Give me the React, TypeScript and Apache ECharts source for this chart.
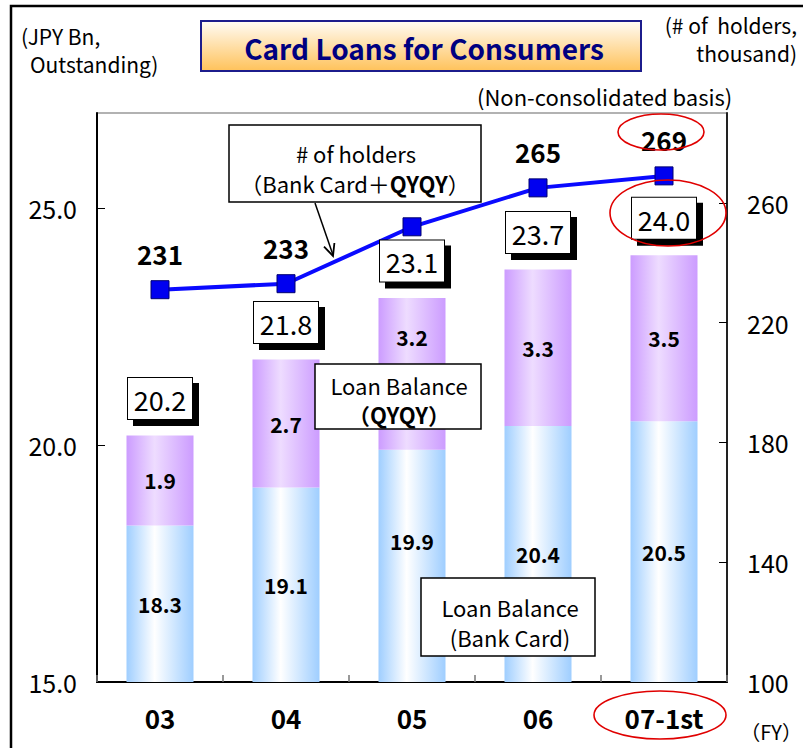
import React, { useEffect, useRef } from "react";
import * as echarts from "echarts";

const categories = ["03", "04", "05", "06", "07-1st"];
const bankCard = [18.3, 19.1, 19.9, 20.4, 20.5];
const qyqy = [1.9, 2.7, 3.2, 3.3, 3.5];
const totals = [20.2, 21.8, 23.1, 23.7, 24.0];
const holders = [231, 233, 252, 265, 269];
const holderLabelShown = [true, true, false, true, true];
const leftTicks = [15, 20, 25];
const rightTicks = [100, 140, 180, 220, 260];

const FONT = "'Noto Sans CJK JP', 'Noto Sans', sans-serif";

// label shifts (px) to keep in-bar values clear of the annotation boxes
const bankLabelShift = [0, 0, -25, 0, 0];
const qyqyLabelShift = [0, 0, -37, 0, 0];

function hGrad(edge: string, mid: string) {
  return new echarts.graphic.LinearGradient(0, 0, 1, 0, [
    { offset: 0, color: edge },
    { offset: 0.42, color: mid },
    { offset: 1, color: edge },
  ]);
}

function txt(text: string, x: number, y: number, size: number, align: string = "left", weight: string = "normal", color = "#000") {
  return {
    type: "text",
    x,
    y,
    z: 120,
    style: {
      text,
      fill: color,
      fontSize: size,
      fontWeight: weight,
      fontFamily: FONT,
      lineHeight: size + 2,
      align,
      verticalAlign: "middle",
    },
  };
}

function box(x: number, y: number, w: number, h: number) {
  return {
    type: "rect",
    z: 110,
    shape: { x, y, width: w, height: h },
    style: { fill: "#fff", stroke: "#000", lineWidth: 1.5 },
  };
}

function ellipse(cx: number, cy: number, rx: number, ry: number) {
  return {
    type: "ellipse",
    z: 130,
    shape: { cx, cy, rx, ry },
    style: { fill: "none", stroke: "#e00000", lineWidth: 1.6 },
  };
}

const boxLabelBase = {
  show: true,
  position: "top",
  distance: 16,
  fontSize: 27,
  fontFamily: FONT,
  lineHeight: 29,
  width: 50,
  height: 29,
  align: "center",
  borderColor: "#000",
  borderWidth: 1,
  padding: [7, 7, 5, 7],
};

export default function App() {
  const ref = useRef<HTMLDivElement>(null);
  useEffect(() => {
    if (!ref.current) return;
    const chart = echarts.init(ref.current, null, { renderer: "svg" });
    const barLabel = { show: true, position: "inside", color: "#000", fontSize: 21, fontWeight: "bold", fontFamily: FONT };
    const option: any = {
      animation: false,
      backgroundColor: "#fff",
      textStyle: { fontFamily: FONT },
      grid: {
        left: 97,
        right: 76,
        top: 113,
        bottom: 66,
        show: true,
        borderColor: "#999",
        borderWidth: 1.5,
        backgroundColor: "transparent",
      },
      xAxis: {
        type: "category",
        data: categories,
        axisLine: { lineStyle: { color: "#000", width: 2 } },
        axisTick: { show: true, inside: true, length: 7, alignWithLabel: false, lineStyle: { color: "#777", width: 1.5 } },
        axisLabel: { color: "#000", fontSize: 26, fontWeight: "bold", margin: 22, fontFamily: FONT },
      },
      yAxis: [
        {
          type: "value",
          min: 15,
          max: 27,
          startValue: 15,
          splitLine: { show: false },
          axisLine: { show: true, lineStyle: { color: "#000", width: 2 } },
          axisTick: { show: true, inside: true, length: 8, customValues: leftTicks, lineStyle: { color: "#000" } },
          axisLabel: {
            customValues: leftTicks,
            formatter: (v: number) => v.toFixed(1),
            color: "#000",
            fontSize: 25,
            margin: 20,
            fontFamily: FONT,
          },
        },
        {
          type: "value",
          min: 100,
          max: 290,
          position: "right",
          splitLine: { show: false },
          axisLine: { show: true, lineStyle: { color: "#222", width: 2 } },
          axisTick: { show: true, inside: true, length: 8, customValues: rightTicks, lineStyle: { color: "#000" } },
          axisLabel: { customValues: rightTicks, color: "#000", fontSize: 25, margin: 20, fontFamily: FONT },
        },
      ],
      series: [
        {
          name: "Loan Balance (Bank Card)",
          type: "bar",
          stack: "loan",
          data: bankCard.map((v, i) => ({ value: v, label: { offset: [0, bankLabelShift[i]] } })),
          barWidth: 67,
          itemStyle: { color: hGrad("#9fceff", "#ffffff") },
          label: barLabel,
          z: 2,
        },
        {
          name: "Loan Balance (QYQY)",
          type: "bar",
          stack: "loan",
          data: qyqy.map((v, i) => ({ value: v, label: { offset: [0, qyqyLabelShift[i]] } })),
          barWidth: 67,
          itemStyle: { color: hGrad("#cc9cff", "#eedcff") },
          label: barLabel,
          z: 2,
        },
        {
          name: "# of holders",
          type: "line",
          yAxisIndex: 1,
          data: holders.map((v, i) => ({ value: v, label: { show: holderLabelShown[i] } })),
          symbol: "rect",
          symbolSize: 18,
          lineStyle: { color: "#0a0aff", width: 4 },
          itemStyle: { color: "#0000f0", borderColor: "#000070", borderWidth: 1 },
          label: { show: true, position: "top", distance: 14, color: "#000", fontSize: 26, fontWeight: "bold", fontFamily: FONT },
          z: 5,
        },
        {
          name: "Total shadow",
          type: "scatter",
          yAxisIndex: 0,
          data: totals,
          symbol: "rect",
          symbolSize: 1,
          silent: true,
          itemStyle: { color: "rgba(0,0,0,0)", opacity: 1 },
          label: {
            ...boxLabelBase,
            formatter: () => " ",
            color: "#000",
            backgroundColor: "#000",
            offset: [6, 6],
          },
          z: 7,
        },
        {
          name: "Total",
          type: "scatter",
          yAxisIndex: 0,
          data: totals,
          symbol: "rect",
          symbolSize: 1,
          itemStyle: { color: "rgba(0,0,0,0)", opacity: 1 },
          label: {
            ...boxLabelBase,
            formatter: (p: any) => Number(p.value).toFixed(1),
            color: "#000",
            backgroundColor: "#fff",
          },
          z: 8,
        },
      ],
      graphic: [
        {
          type: "rect",
          z: 100,
          shape: { x: 11, y: 6, width: 900, height: 900 },
          style: { fill: "none", stroke: "#000", lineWidth: 2.5 },
        },
        {
          type: "rect",
          z: 100,
          shape: { x: 201, y: 21, width: 440, height: 50 },
          style: {
            fill: new echarts.graphic.LinearGradient(0, 0, 0, 1, [
              { offset: 0, color: "#fffcf6" },
              { offset: 1, color: "#ffc25a" },
            ]),
            stroke: "#1c1c8c",
            lineWidth: 2,
          },
        },
        txt("Card Loans for Consumers", 424, 48, 28, "center", "bold", "#000080"),
        txt("(JPY Bn,", 21, 36, 21),
        txt("Outstanding)", 30, 64, 21),
        txt("(# of  holders,", 797, 25, 21, "right"),
        txt("thousand)", 797, 53, 21, "right"),
        txt("(Non-consolidated basis)", 477, 96, 22),
        txt("（FY）", 802, 731, 20, "right"),
        box(229, 125, 252, 77),
        txt("# of holders", 356, 153, 22, "center"),
        {
          type: "text",
          x: 355,
          y: 183,
          z: 120,
          style: {
            rich: {
              n: { fontSize: 22, fontFamily: FONT, fill: "#000" },
              b: { fontSize: 22, fontFamily: FONT, fontWeight: "bold", fill: "#000" },
            },
            text: "{n|（Bank Card＋}{b|QYQY}{n|）}",
            align: "center",
            verticalAlign: "middle",
          },
        },
        {
          type: "line",
          z: 120,
          shape: { x1: 315, y1: 203, x2: 333, y2: 255 },
          style: { stroke: "#000", lineWidth: 1.5 },
        },
        {
          type: "polyline",
          z: 120,
          shape: { points: [[334.4, 243], [333, 256], [324, 246.7]] },
          style: { stroke: "#000", lineWidth: 1.8, fill: "none" },
        },
        box(315, 364, 166, 65),
        txt("Loan Balance", 399, 385, 22, "center"),
        txt("（QYQY）", 399, 414, 22, "center", "bold"),
        box(421, 578, 174, 78),
        txt("Loan Balance", 510, 607, 22, "center"),
        txt("(Bank Card)", 510, 637, 22, "center"),
        ellipse(661, 132, 43, 18),
        ellipse(668, 213, 58, 33),
        ellipse(660, 715, 66, 24),
      ],
    };
    chart.setOption(option);
    return () => chart.dispose();
  }, []);
  return (
    <div
      ref={ref}
      style={{ position: "absolute", left: 0, top: 0, width: 803, height: 748 }}
    />
  );
}
